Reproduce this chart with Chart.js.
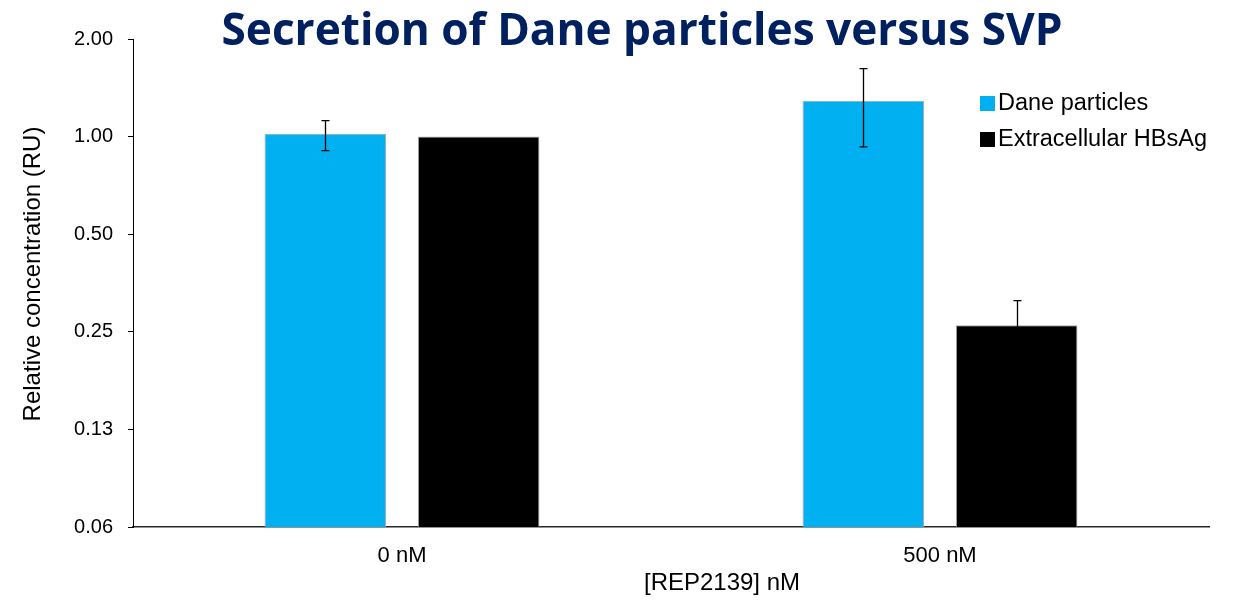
<!DOCTYPE html>
<html>
<head>
<meta charset="utf-8">
<script src="https://cdn.jsdelivr.net/npm/chart.js@4/dist/chart.umd.min.js"></script>
<style>
  html, body { margin: 0; padding: 0; background: #ffffff; }
  #wrap { width: 1237px; height: 602px; }
</style>
</head>
<body>
<div id="wrap"><canvas id="c" width="1237" height="602"></canvas></div>
<script>
// Categories, series and error ranges
const categories = ['0 nM', '500 nM'];
const seriesNames = ['Dane particles', 'Extracellular HBsAg'];
const seriesColors = ['#00B0F0', '#000000'];
const daneValues = [1.02, 1.29];
const hbsagValues = [1.00, 0.262];
const daneErrLow = [0.905, 0.93];
const daneErrHigh = [1.12, 1.62];
const hbsagErrLow = [null, 0.212];
const hbsagErrHigh = [null, 0.312];
const yTickValues = [0.0625, 0.125, 0.25, 0.5, 1, 2];
const yTickLabels = ['0.06', '0.13', '0.25', '0.50', '1.00', '2.00'];

const chartTitle = 'Secretion of Dane particles versus SVP';
const yTitle = 'Relative concentration (RU)';
const xTitle = '[REP2139] nM';

const errLow = [daneErrLow, hbsagErrLow];
const errHigh = [daneErrHigh, hbsagErrHigh];

const sansFont = '"Liberation Sans", Arial, sans-serif';

// Whisker bars drawn over each bar from the y scale
const errorBars = {
  id: 'errorBars',
  afterDatasetsDraw(chart) {
    const ctx = chart.ctx;
    const y = chart.scales.y;
    ctx.save();
    ctx.strokeStyle = '#000000';
    ctx.lineWidth = 1.3;
    chart.data.datasets.forEach((ds, di) => {
      const meta = chart.getDatasetMeta(di);
      meta.data.forEach((bar, i) => {
        const lo = errLow[di][i], hi = errHigh[di][i];
        if (lo == null || hi == null) return;
        const x = Math.round(bar.x) + 0.5;
        const yl = y.getPixelForValue(lo), yh = y.getPixelForValue(hi);
        ctx.beginPath();
        ctx.moveTo(x, yl); ctx.lineTo(x, yh);
        ctx.moveTo(x - 4, yh); ctx.lineTo(x + 4, yh);
        ctx.moveTo(x - 4, yl); ctx.lineTo(x + 4, yl);
        ctx.stroke();
      });
    });
    ctx.restore();
  }
};

// Title, axis titles and legend
const decorations = {
  id: 'decorations',
  afterDraw(chart) {
    const ctx = chart.ctx;
    ctx.save();
    ctx.fillStyle = '#002060';
    ctx.font = 'bold 44px "Open Sans", Lato, sans-serif';
    ctx.textAlign = 'center';
    ctx.textBaseline = 'alphabetic';
    const w = ctx.measureText(chartTitle).width;
    ctx.save();
    ctx.translate(642, 45);
    ctx.scale(841 / w, 1);
    ctx.fillText(chartTitle, 0, 0);
    ctx.restore();

    ctx.fillStyle = '#000000';
    ctx.font = '24px ' + sansFont;
    ctx.textBaseline = 'middle';
    ctx.fillText(xTitle, 722, 583);

    ctx.save();
    ctx.translate(33, 274);
    ctx.rotate(-Math.PI / 2);
    ctx.fillText(yTitle, 0, 0);
    ctx.restore();

    ctx.textAlign = 'left';
    ctx.font = '23.5px ' + sansFont;
    chart.data.datasets.forEach((ds, i) => {
      const cy = 104 + i * 36;
      ctx.fillStyle = ds.backgroundColor;
      ctx.fillRect(980, cy - 8, 15, 15);
      ctx.fillStyle = '#000000';
      ctx.fillText(ds.label, 998, cy);
    });
    ctx.restore();
  }
};

new Chart(document.getElementById('c'), {
  type: 'bar',
  data: {
    labels: categories,
    datasets: [
      { label: seriesNames[0], data: daneValues, backgroundColor: seriesColors[0] },
      { label: seriesNames[1], data: hbsagValues, backgroundColor: seriesColors[1] }
    ]
  },
  options: {
    responsive: false,
    devicePixelRatio: 1,
    animation: false,
    layout: { padding: { top: 39, right: 28, left: 0, bottom: 0 } },
    datasets: {
      bar: {
        categoryPercentage: 0.570,
        barPercentage: 0.793,
        borderColor: '#A6A6A6',
        borderWidth: 1
      }
    },
    plugins: {
      legend: { display: false },
      title: { display: false },
      tooltip: { enabled: false }
    },
    scales: {
      x: {
        grid: { display: false, drawTicks: false },
        border: { display: true, color: '#262626', width: 1.5 },
        ticks: { color: '#000000', font: { size: 22, family: sansFont }, padding: 16 },
        afterFit(s) { s.height = 75; }
      },
      y: {
        type: 'logarithmic',
        min: 0.0625,
        max: 2,
        grid: { display: true, drawOnChartArea: false, drawTicks: true, tickLength: 5, color: '#000000' },
        border: { display: true, color: '#000000', width: 1 },
        afterBuildTicks(s) { s.ticks = yTickValues.map(v => ({ value: v })); },
        ticks: {
          color: '#000000',
          font: { size: 20, family: sansFont },
          padding: 15,
          callback: (v, i) => yTickLabels[i]
        },
        afterFit(s) { s.width = 133; }
      }
    }
  },
  plugins: [errorBars, decorations]
});
</script>
</body>
</html>
